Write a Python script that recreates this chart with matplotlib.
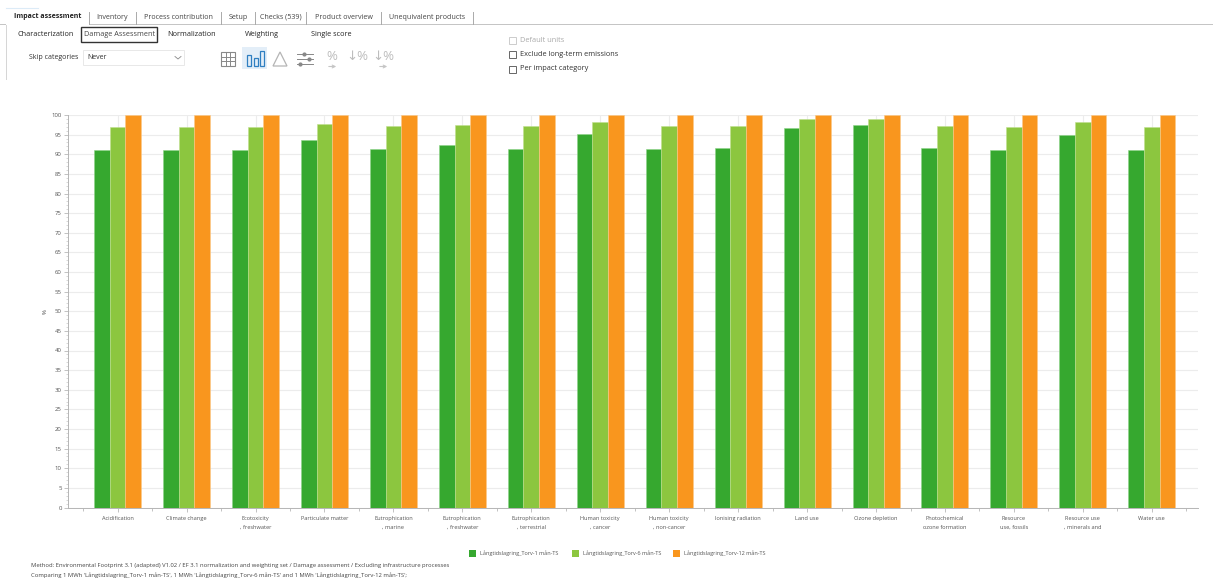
import numpy as np
import matplotlib
matplotlib.use('Agg')
from matplotlib import pyplot as plt
from matplotlib.patches import Rectangle, Polygon

categories = ['Acidification', 'Climate change', 'Ecotoxicity\n, freshwater', 'Particulate matter',
              'Eutrophication\n, marine', 'Eutrophication\n, freshwater', 'Eutrophication\n, terrestrial',
              'Human toxicity\n, cancer', 'Human toxicity\n, non-cancer', 'Ionising radiation',
              'Land use', 'Ozone depletion', 'Photochemical\nozone formation', 'Resource\nuse, fossils',
              'Resource use\n, minerals and', 'Water use']
series_names = ['Långtidslagring_Torv-1 mån-TS', 'Långtidslagring_Torv-6 mån-TS', 'Långtidslagring_Torv-12 mån-TS']
torv_1 = [91.2, 91.2, 91.2, 93.6, 91.4, 92.4, 91.4, 95.2, 91.4, 91.6, 96.8, 97.5, 91.6, 91.2, 95.0, 91.2]
torv_6 = [97.0, 97.0, 97.0, 97.8, 97.2, 97.4, 97.2, 98.2, 97.2, 97.2, 98.9, 99.0, 97.2, 97.0, 98.2, 97.0]
torv_12 = [100, 100, 100, 100, 100, 100, 100, 100, 100, 100, 100, 100, 100, 100, 100, 100]
colors = ['#36a82f', '#8cc63f', '#f9961e']
edges = ['#8fd38a', '#c0e08f', '#fcc98a']

tabs = ['Inventory', 'Process contribution', 'Setup', 'Checks (539)', 'Product overview', 'Unequivalent products']
tab_x = [89, 136, 221, 255, 306, 381, 473]
sub_tabs = ['Characterization', 'Normalization', 'Weighting', 'Single score']
sub_x = [46, 192, 262, 331]
foot_1 = 'Method: Environmental Footprint 3.1 (adapted) V1.02 / EF 3.1 normalization and weighting set / Damage assessment / Excluding infrastructure processes'
foot_2 = "Comparing 1 MWh 'Långtidslagring_Torv-1 mån-TS', 1 MWh 'Långtidslagring_Torv-6 mån-TS' and 1 MWh 'Långtidslagring_Torv-12 mån-TS';"

W, H = 1213, 580
plt.rcParams['font.family'] = ['Open Sans', 'DejaVu Sans']
fig = plt.figure(figsize=(W / 100, H / 100), dpi=100)

# chart area, pixel box
ax = fig.add_axes([68 / W, 1 - 507.5 / H, (1198 - 68) / W, (507.5 - 115) / H])
x = np.arange(len(categories))
w = 0.227
for i, vals in enumerate([torv_1, torv_6, torv_12]):
    ax.bar(x + (i - 1) * w, vals, w, color=colors[i], edgecolor=edges[i], linewidth=0.4, zorder=3)
ax.set_xlim(-0.72, 15.67)
ax.set_ylim(0, 100)
ax.set_yticks(np.arange(0, 101, 5))
ax.set_yticks(np.arange(0, 101, 1), minor=True)
ax.set_xticks(x)
ax.set_xticklabels(categories, fontsize=4.1, color='#555555', linespacing=2.0)
ax.set_xticks(np.arange(-0.5, 16, 1), minor=True)
ax.tick_params(axis='y', which='major', labelsize=4.3, labelcolor='#555555', length=3, width=0.5, color='#aaaaaa', pad=1.5)
ax.tick_params(axis='y', which='minor', length=1.5, width=0.4, color='#bbbbbb')
ax.tick_params(axis='x', which='major', length=3, width=0.5, color='#aaaaaa', pad=3)
ax.tick_params(axis='x', which='minor', length=2, width=0.5, color='#aaaaaa')
ax.grid(True, which='major', color='#ececec', linewidth=0.8, zorder=0)
ax.set_axisbelow(True)
for s in ['top', 'right']:
    ax.spines[s].set_visible(False)
for s in ['left', 'bottom']:
    ax.spines[s].set_color('#b5b5b5')
    ax.spines[s].set_linewidth(0.7)
ax.set_ylabel('%', fontsize=4.3, color='#444444', labelpad=3)

# everything around the chart (window chrome) in pixel coordinates
ui = fig.add_axes([0, 0, 1, 1], zorder=-1)
ui.set_xlim(0, W)
ui.set_ylim(H, 0)
ui.axis('off')

ui.plot([0, W], [24, 24], color='#c4c4c4', lw=0.7)
ui.plot([6, 6], [24, 79], color='#d5d5d5', lw=0.7)
ui.plot([6, 38], [8, 8], color='#dcebf7', lw=0.8)
ui.add_patch(Rectangle((6, 11), 83, 14, fc='white', ec='none', zorder=2))
ui.text(47.5, 16.5, 'Impact assessment', fontsize=5.0, fontweight='bold', ha='center', va='center', color='#222222', zorder=3)
for i, t in enumerate(tabs):
    ui.text((tab_x[i] + tab_x[i + 1]) / 2, 17.5, t, fontsize=5.15, ha='center', va='center', color='#444444')
for xp in tab_x:
    ui.plot([xp, xp], [12, 24], color='#aaaaaa', lw=0.7)

for t, xp in zip(sub_tabs, sub_x):
    ui.text(xp, 34, t, fontsize=5.2, ha='center', va='center', color='#222222')
ui.add_patch(Rectangle((81, 26.5), 76, 15, fc='white', ec='#333333', lw=1))
ui.text(119.5, 34.5, 'Damage Assessment', fontsize=5.2, ha='center', va='center', color='#444444')

ui.text(54, 57.5, 'Skip categories', fontsize=5.0, ha='center', va='center', color='#333333')
ui.add_patch(Rectangle((83, 50), 101, 15, fc='white', ec='#e8e8e8', lw=0.7))
ui.text(87, 57.5, 'Never', fontsize=5.0, va='center', color='#333333')
ui.plot([175, 178, 181], [56.5, 59, 56.5], color='#888888', lw=0.6)

# toolbar icons
ui.add_patch(Rectangle((221, 52), 14, 14, fc='none', ec='#888888', lw=0.8))
for d in [4.7, 9.3]:
    ui.plot([221 + d, 221 + d], [52, 66], color='#888888', lw=0.7)
    ui.plot([221, 235], [52 + d, 52 + d], color='#888888', lw=0.7)
ui.add_patch(Rectangle((242, 47), 25, 22, fc='#e3eef8', ec='none'))
for xp, hp in zip([249, 255.5, 262], [11, 8, 15]):
    ui.add_patch(Rectangle((xp - 2, 66 - hp), 4, hp, fc='none', ec='#2f7fc1', lw=0.9))
ui.add_patch(Polygon([[273, 66], [280, 52], [287, 66]], closed=True, fc='none', ec='#b5b5b5', lw=0.9))
for yp, xk in zip([54, 59, 64], [304, 309, 300]):
    ui.plot([297, 313], [yp, yp], color='#888888', lw=0.7)
    ui.plot([xk], [yp], 'o', ms=2, color='#888888')
for xp, t in zip([332, 357, 383], ['%', '↓%', '↓%']):
    ui.text(xp, 57, t, fontsize=9.5, ha='center', va='center', color='#bdbdbd')
for xp in [332, 383]:
    ui.annotate('', xy=(xp + 7, 66.5), xytext=(xp - 6, 66.5),
                arrowprops=dict(arrowstyle='->', color='#c5c5c5', lw=0.8, mutation_scale=5))

for yp, t, c, ec in [(40.5, 'Default units', '#aaaaaa', '#cccccc'),
                     (54.5, 'Exclude long-term emissions', '#333333', '#666666'),
                     (69, 'Per impact category', '#333333', '#666666')]:
    ui.add_patch(Rectangle((509, yp - 3.5), 7, 7, fc='white', ec=ec, lw=0.7))
    ui.text(519.5, yp, t, fontsize=5.3, va='center', color=c)

# legend and footer
for xp, c, t in zip([469, 572, 673], colors, series_names):
    ui.add_patch(Rectangle((xp, 549.5), 7, 7.5, fc=c, ec='none'))
    ui.text(xp + 11, 553, t, fontsize=4.0, va='center', color='#555555')
ui.text(31, 566, foot_1, fontsize=4.2, va='center', color='#444444')
ui.text(31, 575.5, foot_2, fontsize=4.2, va='center', color='#444444')

fig.savefig('out.png', dpi=100)
